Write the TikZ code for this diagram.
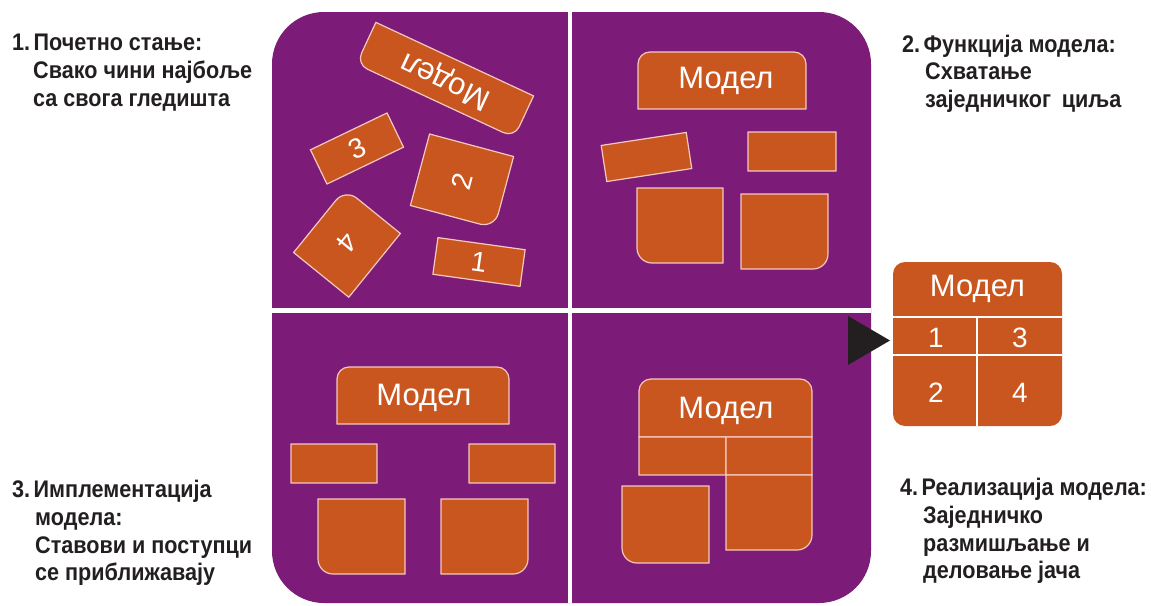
\documentclass[tikz,border=0pt]{standalone}
\usepackage{fontspec}
\setmainfont{Liberation Sans}
\newfontfamily\lblfont[FakeStretch=0.9]{Liberation Sans}
\definecolor{panel}{RGB}{124,28,120}
\definecolor{boxor}{RGB}{201,86,30}
\definecolor{edgecol}{RGB}{246,200,190}
\definecolor{ink}{RGB}{35,31,32}
\tikzset{
  boxpath/.style={fill=boxor,draw=edgecol,line width=1.2pt},
  boxtxt/.style={text=white,inner sep=0pt,font=\fontsize{31}{33}\selectfont},
  digtxt/.style={text=white,inner sep=0pt,font=\fontsize{28}{30}\selectfont},
  lbl/.style={anchor=base west,inner sep=0pt,text=ink,font=\lblfont\bfseries\fontsize{24}{28}\selectfont},
}
% center x, center y, width, height, rotation, radii TL TR BR BL
\newcommand\rbox[9]{%
  \begin{scope}[shift={(#1,#2)},rotate=#5]
    \draw[boxpath] ({-#3/2+#6},{-#4/2}) -- ({#3/2-#7},{-#4/2})
      arc[start angle=-90,end angle=0,radius=#7] -- ({#3/2},{#4/2-#8})
      arc[start angle=0,end angle=90,radius=#8] -- ({-#3/2+#9},{#4/2})
      arc[start angle=90,end angle=180,radius=#9] -- ({-#3/2},{-#4/2+#6})
      arc[start angle=180,end angle=270,radius=#6] -- cycle;
  \end{scope}}
\begin{document}
\begin{tikzpicture}[x=1pt,y=-1pt]
\useasboundingbox (0,0) rectangle (1151,605);
% purple panel and white cross
\fill[panel,rounded corners=52pt] (272,12) rectangle (871,603);
\fill[white] (567.6,12) rectangle (572.4,603);
\fill[white] (272,307.6) rectangle (871,312.6);

% Quadrant 1: scattered
\rbox{445}{80}{174}{46}{155}{12}{12}{0.01}{0.01}
\node[boxtxt,rotate=155] (q1m) at (446,80) {Модел};
\rbox{357}{148.5}{85}{38}{25.7}{0.01}{0.01}{0.01}{0.01}
\node[digtxt,rotate=25.7] (q1c) at (357,148.5) {3};
\rbox{462}{181}{74}{87}{75}{0.01}{0.01}{0.01}{15}
\node[digtxt,rotate=75] (q1b) at (462,181) {2};
\rbox{347}{243}{82}{71}{231}{0.01}{0.01}{0.01}{15}
\node[digtxt,rotate=231] (q1d) at (347,243) {4};
\rbox{479}{262}{88}{37}{-7.9}{0.01}{0.01}{0.01}{0.01}
\node[digtxt,rotate=-7.9] (q1a) at (479,262) {1};

% Quadrant 2
\rbox{722}{80.5}{168}{57}{0}{12}{12}{0.01}{0.01}
\node[boxtxt,anchor=base] (q2m) at (726,88) {Модел};
\rbox{646.5}{157}{86}{36.5}{8.7}{0.01}{0.01}{0.01}{0.01}
\rbox{792}{151.5}{88}{39}{0}{0.01}{0.01}{0.01}{0.01}
\rbox{680}{225.5}{86}{75}{0}{0.01}{0.01}{0.01}{15}
\rbox{784.5}{231.5}{87}{75}{0}{0.01}{0.01}{15}{0.01}

% Quadrant 3
\rbox{423}{395.5}{172}{57}{0}{12}{12}{0.01}{0.01}
\node[boxtxt,anchor=base] (q3m) at (424,405.5) {Модел};
\rbox{334}{463.5}{86}{39}{0}{0.01}{0.01}{0.01}{0.01}
\rbox{512}{463.5}{86}{39}{0}{0.01}{0.01}{0.01}{0.01}
\rbox{361.5}{536.5}{87}{75}{0}{0.01}{0.01}{0.01}{15}
\rbox{484.5}{536.5}{87}{75}{0}{0.01}{0.01}{15}{0.01}

% Quadrant 4
\rbox{725.5}{408}{173}{58}{0}{12}{12}{0.01}{0.01}
\node[boxtxt,anchor=base] (q4m) at (726,418.5) {Модел};
\rbox{682.5}{456}{87}{38}{0}{0.01}{0.01}{0.01}{0.01}
\rbox{769}{456}{86}{38}{0}{0.01}{0.01}{0.01}{0.01}
\rbox{769}{512.5}{86}{75}{0}{0.01}{0.01}{15}{0.01}
\rbox{665.5}{524.5}{87}{77}{0}{0.01}{0.01}{0.01}{15}

% arrow head
\fill[ink] (848,316) -- (890,340.5) -- (848,365) -- cycle;

% final model
\fill[boxor,rounded corners=12pt] (893,262) rectangle (1062,426);
\draw[white,line width=2.5pt] (893,317) -- (1062,317);
\draw[white,line width=2.5pt] (893,355) -- (1062,355);
\draw[white,line width=2.5pt] (977,317) -- (977,426);
\node[boxtxt,anchor=base] (fm) at (977.5,296) {Модел};
\node[digtxt,anchor=base] (f1) at (936,347) {1};
\node[digtxt,anchor=base] (f3) at (1020,347) {3};
\node[digtxt,anchor=base] (f2) at (936,402) {2};
\node[digtxt,anchor=base] (f4) at (1020,402) {4};

% labels
\node[lbl] (l1a) at (12,50) {1.\hspace{3.5pt}Почетно стање:};
\node[lbl] (l1b) at (33,78) {Свако чини најбоље};
\node[lbl] (l1c) at (33,106) {са свога гледишта};

\node[lbl] (l2a) at (902,52) {2.\hspace{3.5pt}Функција модела:};
\node[lbl] (l2b) at (925,79.5) {Схватање};
\node[lbl] (l2c) at (925,107) {заједничког\hspace{0.45em}циља};

\node[lbl] (l3a) at (12,497) {3.\hspace{3.5pt}Имплементација};
\node[lbl] (l3b) at (35,525) {модела:};
\node[lbl] (l3c) at (35,553) {Ставови и поступци};
\node[lbl] (l3d) at (35,580) {се приближавају};

\node[lbl] (l4a) at (900,495) {4.\hspace{3.5pt}Реализација модела:};
\node[lbl] (l4b) at (923,523) {Заједничко};
\node[lbl] (l4c) at (923,551) {размишљање и};
\node[lbl] (l4d) at (923,578) {деловање јача};
\end{tikzpicture}
\end{document}
